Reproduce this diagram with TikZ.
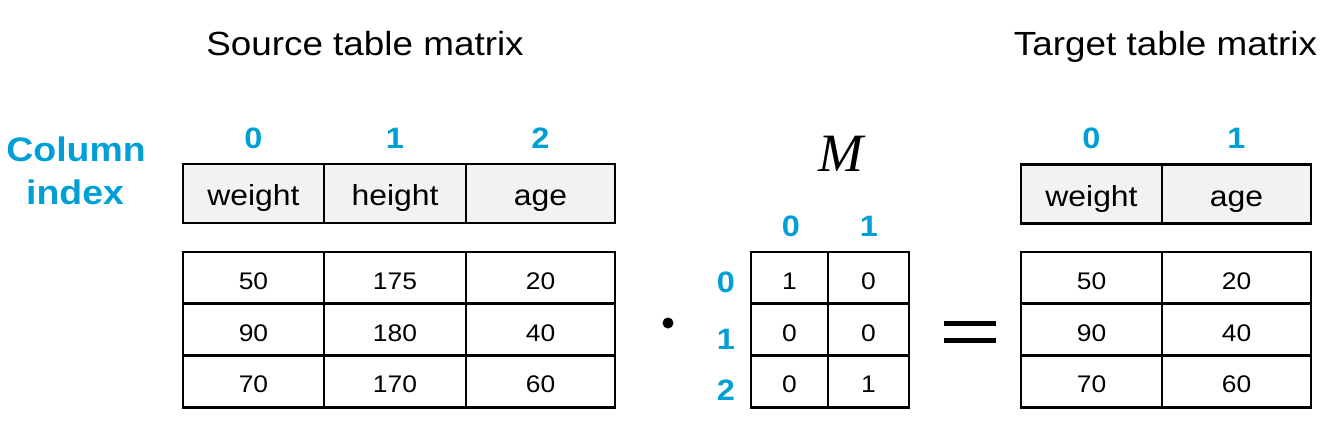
\documentclass[tikz,border=0pt]{standalone}
\usepackage{fontspec}
\setmainfont{Liberation Sans}
\newfontfamily\hv[FakeStretch=1.1]{Liberation Sans}
\newfontfamily\tmserif{Liberation Serif}
\definecolor{idxblue}{RGB}{0,160,214}
\definecolor{hdrgray}{RGB}{242,242,242}
\begin{document}
\begin{tikzpicture}[x=1pt,y=-1pt,
  cell/.style={draw, line width=2.8pt, inner sep=0pt, outer sep=0pt},
  hdrcell/.style={cell, fill=hdrgray, font=\fontsize{29}{34}\selectfont\hv, text height=24pt, text depth=0pt, minimum height=59pt},
  datcell/.style={cell, font=\fontsize{24}{28}\selectfont\hv, text height=22.6pt, text depth=0pt, minimum height=51.8pt},
  idx/.style={font=\fontsize{29.5}{34}\selectfont\hv\bfseries, text=idxblue, anchor=base, inner sep=0pt},
  bigidx/.style={font=\fontsize{34}{40}\selectfont\hv\bfseries, text=idxblue, anchor=base, inner sep=0pt},
  title/.style={font=\fontsize{33.5}{40}\selectfont\hv, anchor=base, inner sep=0pt}]
\useasboundingbox (0,0) rectangle (1330,423);

% titles
\node[title] (srctitle) at (365,55.7) {Source table matrix};
\node[title] (tgttitle) at (1165.5,55.7) {Target table matrix};

% column index label
\node[bigidx] (colidxA) at (76,161.7) {Column};
\node[bigidx] (colidxB) at (75,204) {index};

% source column indices
\node[idx] (si0) at (253.5,148.3) {0};
\node[idx] (si1) at (395,148.3) {1};
\node[idx] (si2) at (540.5,148.3) {2};

% source header
\node[hdrcell, minimum width=141pt] (sh0) at (253.5,193.5) {weight};
\node[hdrcell, minimum width=142pt] (sh1) at (395,193.5) {height};
\node[hdrcell, minimum width=149pt] (sh2) at (540.5,193.5) {age};

% source data
\foreach \r/\y/\a/\b/\c in {1/277.9/50/175/20, 2/329.7/90/180/40, 3/381.5/70/170/60}{
  \node[datcell, minimum width=141pt] (sd\r a) at (253.5,\y) {\a};
  \node[datcell, minimum width=142pt] (sd\r b) at (395,\y) {\b};
  \node[datcell, minimum width=149pt] (sd\r c) at (540.5,\y) {\c};
}

% dot operator
\fill (668,323) circle (5.5);

% M matrix
\node[font=\fontsize{54}{60}\selectfont\tmserif\itshape, anchor=base, inner sep=0pt] (mlabel) at (840.5,171) {M};
\node[idx] (mc0) at (791,236) {0};
\node[idx] (mc1) at (869,236) {1};
\node[idx] (mr0) at (726,292.7) {0};
\node[idx] (mr1) at (726,349) {1};
\node[idx] (mr2) at (726,400) {2};
\foreach \r/\y/\a/\b in {1/277.9/1/0, 2/329.7/0/0, 3/381.5/0/1}{
  \node[datcell, minimum width=77pt] (m\r a) at (789.5,\y) {\a};
  \node[datcell, minimum width=81pt] (m\r b) at (868.5,\y) {\b};
}

% equals sign
\fill (944,320.7) rectangle (996,326);
\fill (944,338) rectangle (996,343.3);

% target column indices
\node[idx] (ti0) at (1091.5,148.3) {0};
\node[idx] (ti1) at (1236.5,148.3) {1};

% target header
\node[hdrcell, minimum width=141pt] (th0) at (1091.5,194) {weight};
\node[hdrcell, minimum width=149pt] (th1) at (1236.5,194) {age};

% target data
\foreach \r/\y/\a/\b in {1/277.9/50/20, 2/329.7/90/40, 3/381.5/70/60}{
  \node[datcell, minimum width=141pt] (td\r a) at (1091.5,\y) {\a};
  \node[datcell, minimum width=149pt] (td\r b) at (1236.5,\y) {\b};
}
\end{tikzpicture}
\end{document}
